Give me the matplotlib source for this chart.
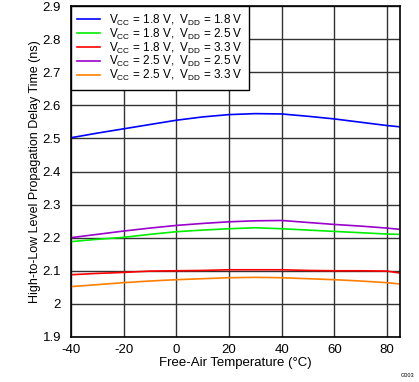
import matplotlib
matplotlib.use("Agg")
import matplotlib.pyplot as plt

# temperatura (°C)
temp = [-40, -30, -20, -10, 0, 10, 20, 30, 40, 50, 60, 70, 80, 85]

# atrasos de propagação (ns)
vcc18_vdd18 = [2.502, 2.516, 2.529, 2.542, 2.555, 2.565, 2.572, 2.575, 2.574, 2.567, 2.559, 2.549, 2.539, 2.535]
vcc18_vdd25 = [2.188, 2.195, 2.201, 2.210, 2.218, 2.223, 2.227, 2.230, 2.227, 2.223, 2.219, 2.215, 2.211, 2.210]
vcc18_vdd33 = [2.088, 2.092, 2.095, 2.099, 2.100, 2.101, 2.103, 2.103, 2.103, 2.101, 2.100, 2.100, 2.099, 2.093]
vcc25_vdd25 = [2.200, 2.210, 2.220, 2.229, 2.237, 2.243, 2.248, 2.251, 2.252, 2.246, 2.240, 2.235, 2.229, 2.225]
vcc25_vdd33 = [2.052, 2.058, 2.064, 2.069, 2.073, 2.076, 2.079, 2.080, 2.079, 2.076, 2.073, 2.069, 2.064, 2.060]

series = [
    (vcc18_vdd18, "#0000ff", r"$\mathregular{V_{CC}}$ = 1.8 V,  $\mathregular{V_{DD}}$ = 1.8 V"),
    (vcc18_vdd25, "#00ee00", r"$\mathregular{V_{CC}}$ = 1.8 V,  $\mathregular{V_{DD}}$ = 2.5 V"),
    (vcc18_vdd33, "#ff0000", r"$\mathregular{V_{CC}}$ = 1.8 V,  $\mathregular{V_{DD}}$ = 3.3 V"),
    (vcc25_vdd25, "#9900cc", r"$\mathregular{V_{CC}}$ = 2.5 V,  $\mathregular{V_{DD}}$ = 2.5 V"),
    (vcc25_vdd33, "#ff7f00", r"$\mathregular{V_{CC}}$ = 2.5 V,  $\mathregular{V_{DD}}$ = 3.3 V"),
]

plt.rcParams['font.family'] = ['Liberation Sans', 'DejaVu Sans']
plt.rcParams['mathtext.default'] = 'regular'
plt.rcParams['axes.unicode_minus'] = False

fig = plt.figure(figsize=(4.19, 3.82), dpi=100)
ax = fig.add_axes([0.169, 0.118, 0.786, 0.866])

for valores, cor, rotulo in series:
    ax.plot(temp, valores, color=cor, lw=1.2, label=rotulo)

ax.set_xlim(-40, 85)
ax.set_ylim(1.9, 2.9)
ax.set_xticks([-40, -20, 0, 20, 40, 60, 80])
ax.set_yticks([1.9, 2.0, 2.1, 2.2, 2.3, 2.4, 2.5, 2.6, 2.7, 2.8, 2.9])
ax.set_yticklabels(['1.9', '2', '2.1', '2.2', '2.3', '2.4', '2.5', '2.6', '2.7', '2.8', '2.9'])
ax.grid(True, color='#333333', lw=1)
ax.tick_params(axis='y', length=0, labelsize=9.5, pad=7)
ax.tick_params(axis='x', length=0, labelsize=9.5, pad=5)
for s in ax.spines.values():
    s.set_linewidth(1.2)

ax.set_xlabel('Free-Air Temperature (°C)', fontsize=9.5, labelpad=1)
ax.set_ylabel('High-to-Low Level Propagation Delay Time (ns)', fontsize=9, labelpad=1.5)

leg = ax.legend(loc='upper left', borderaxespad=0, fancybox=False, framealpha=1,
                edgecolor='black', fontsize=8.5, handlelength=1.9, handletextpad=0.8,
                labelspacing=-0.1, borderpad=0.55)
leg.get_frame().set_linewidth(1.0)

fig.text(0.99, 0.01, 'G003', fontsize=4, ha='right', va='bottom')

fig.savefig('out.png', dpi=100)
